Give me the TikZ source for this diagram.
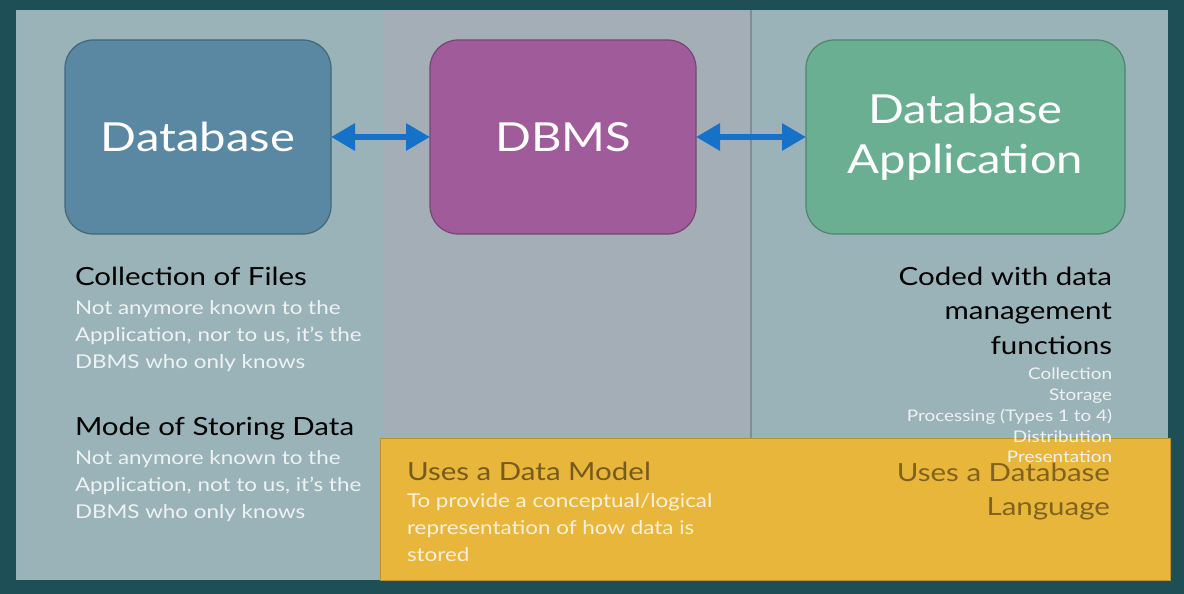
\documentclass[tikz,border=0pt]{standalone}
\usepackage{fontspec}
\setmainfont{Lato}[FakeStretch=1.18]
\usetikzlibrary{positioning,arrows.meta}
\definecolor{frame}{HTML}{1E4E56}
\definecolor{panel}{HTML}{9AB3B9}
\definecolor{midpanel}{HTML}{A4AEB6}
\definecolor{divider}{HTML}{7F8E94}
\definecolor{dbblue}{HTML}{5A88A2}
\definecolor{dbmspurple}{HTML}{A05C9A}
\definecolor{appgreen}{HTML}{6BAF92}
\definecolor{modelyellow}{HTML}{E9B63C}
\definecolor{arrowblue}{HTML}{1572C8}
\definecolor{darkbrown}{HTML}{765A1E}
\definecolor{paletext}{HTML}{EEF2F3}
\definecolor{paleyellow}{HTML}{FBF0DC}

\begin{document}
\begin{tikzpicture}[x=1pt, y=-1pt,
	every node/.style={inner sep=0pt, outer sep=0pt},
	bigbox/.style={rectangle, rounded corners=28pt, minimum width=266pt, minimum height=194pt, draw=#1!75!black, fill=#1, line width=1.2pt, text=white, font=\fontsize{40}{50}\selectfont, align=center},
	head/.style={font=\fontsize{25}{34.5}\selectfont, text=black},
	note/.style={font=\fontsize{19}{27}\selectfont, text=paletext},
	link/.style={{Triangle[length=24pt, width=26pt]}-{Triangle[length=24pt, width=26pt]}, line width=6pt, draw=arrowblue}]
	% background panels
	\fill[frame] (0,0) rectangle (1184,594);
	\fill[panel] (16,10) rectangle (1168,580);
	\fill[midpanel] (383,10) rectangle (751,440);
	\draw[divider, line width=2pt] (751,10) -- (751,440);
	% the three blocks
	\node[bigbox=dbblue] (database) at (198,137) {Database};
	\node[bigbox=dbmspurple, right=99pt of database] (dbms) {DBMS};
	\node[bigbox=appgreen, minimum width=319pt, right=110pt of dbms] (app) {Database\\Application};
	\draw[link] (database) -- (dbms);
	\draw[link] (dbms) -- (app);
	% left column
	\node[head, anchor=base west] (files) at (75,285) {Collection of Files};
	\node[note, anchor=north west, align=left] (filesnote) at (75,301) {Not anymore known to the\\Application, nor to us, it's the\\DBMS who only knows};
	\node[head, anchor=base west] (mode) at (75,435) {Mode of Storing Data};
	\node[note, anchor=north west, align=left] (modenote) at (75,451) {Not anymore known to the\\Application, not to us, it's the\\DBMS who only knows};
	% right column
	\node[head, anchor=north east, align=right] (coded) at (1112,267) {Coded with data\\management\\functions};
	% data model band
	\draw[fill=modelyellow, draw=modelyellow!80!black, line width=1pt] (380,438) rectangle (1170,580);
	\node[font=\fontsize{16}{20.8}\selectfont, text=paletext, anchor=north east, align=right] (tasks) at (1112,368) {Collection\\Storage\\Processing (Types 1 to 4)\\Distribution\\Presentation};
	\node[head, text=darkbrown, anchor=base west] (model) at (407,480) {Uses a Data Model};
	\node[note, text=paleyellow, anchor=north west, align=left] (modelnote) at (407,494) {To provide a conceptual/logical\\representation of how data is\\stored};
	\node[head, text=darkbrown, opacity=0.9, anchor=north east, align=right] (language) at (1110,463) {Uses a Database\\Language};
\end{tikzpicture}
\end{document}
